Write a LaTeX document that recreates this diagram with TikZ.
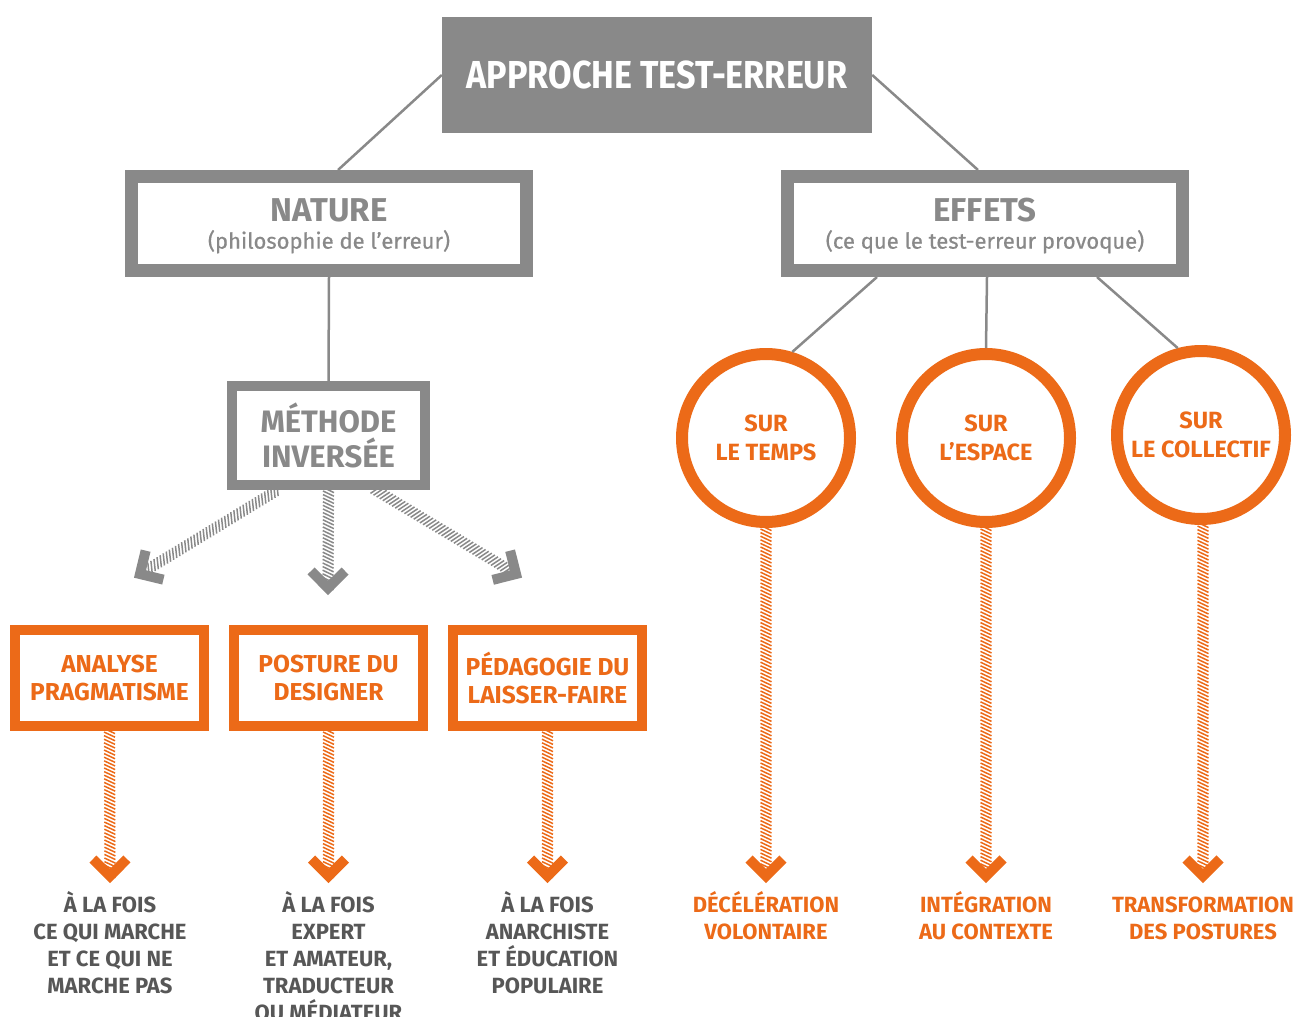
\documentclass[tikz,border=0pt]{standalone}
\usepackage{fontspec}
\setmainfont{Fira Sans}
\newfontfamily\condf{Fira Sans}[FakeStretch=0.875]
\newfontfamily\medf{Fira Sans}[FakeBold=0.6]
\usetikzlibrary{decorations.markings}
\definecolor{gr}{HTML}{898989}
\definecolor{og}{HTML}{EC6A18}
\definecolor{dk}{HTML}{575757}
\newcommand\myfs[2]{\fontsize{#1}{#2}\selectfont}
\newcommand\acc{\vphantom{ÉÀ}}
\begin{document}
\begin{tikzpicture}[x=1pt,y=-1pt,
  conn/.style={draw=gr, line width=2.5pt},
  topbox/.style={fill=gr, minimum width=430pt, minimum height=116pt, text=white, font=\condf\bfseries\myfs{39}{40}, inner sep=0pt},
  bigbox/.style={draw=gr, line width=13pt, minimum width=395pt, minimum height=94pt, fill=white, align=center, text=gr, inner sep=0pt, font=\medf\myfs{22}{31}},
  methbox/.style={draw=gr, line width=10pt, minimum width=193pt, minimum height=99pt, fill=white, align=center, text=gr, font=\bfseries\myfs{31}{35}, inner sep=0pt},
  obox/.style={draw=og, line width=10pt, minimum width=189pt, minimum height=96pt, fill=white, align=center, text=og, font=\bfseries\myfs{24.5}{28.5}, inner sep=0pt},
  ocirc/.style={circle, draw=og, line width=12pt, minimum size=168pt, fill=white, align=center, text=og, font=\bfseries\myfs{23.5}{29}, inner sep=0pt},
  gtext/.style={align=center, text=dk, font=\bfseries\myfs{22}{27}, anchor=north, inner sep=0pt},
  otext/.style={align=center, text=og, font=\bfseries\myfs{22}{27}, anchor=north, inner sep=0pt},
  hatch/.style={postaction={decorate, decoration={markings,
    mark=between positions 0 and 1 step 3.6pt with {\draw[#1, line width=1.5pt] (-2.6pt,-5.5pt) -- (2.6pt,5.5pt);},
    mark=at position 1 with {\draw[#1, line width=10pt, line join=miter] (-17pt,17pt) -- (0pt,0pt) -- (-17pt,-17pt);}}}}
]
\useasboundingbox (0,0) rectangle (1296,1017);

% main boxes
\node[topbox] (top) at (657,75) {APPROCHE TEST-ERREUR};
\node[bigbox] (nat) at (329,223.5) {{\rmfamily\bfseries\myfs{33}{34}\rule{0pt}{28pt}NATURE}\\[-4pt](philosophie de l’erreur)};
\node[bigbox] (eff) at (985,223.5) {{\rmfamily\bfseries\myfs{33}{34}\rule{0pt}{28pt}EFFETS}\\[-4pt](ce que le test-erreur provoque)};
\draw[conn] (top.west) -- (nat.north -| 338,0);
\draw[conn] (top.east) -- (eff.north -| 978,0);

\node[methbox] (meth) at (328.5,435.5) {MÉTHODE\\INVERSÉE};
\draw[conn] (nat.south) -- (meth.north);

% orange boxes
\node[obox] (ana) at (109.5,678) {ANALYSE\\PRAGMATISME};
\node[obox] (pos) at (328.5,678) {POSTURE DU\\DESIGNER};
\node[obox] (ped) at (547.5,678) {PÉDAGOGIE DU\\LAISSER-FAIRE};

% circles
\node[ocirc] (c1) at (766,438) {SUR\\LE TEMPS};
\node[ocirc] (c2) at (986,438) {SUR\\L’ESPACE};
\node[ocirc] (c3) at (1201,435) {SUR\\LE COLLECTIF};
\draw[conn] (eff.south -| 877,0) -- (c1.73);
\draw[conn] (eff.south -| 987,0) -- (c2.north);
\draw[conn] (eff.south -| 1097,0) -- (c3.105);

% gray hatched arrows
\coordinate (gL) at (140,574);
\coordinate (gC) at (328,588);
\coordinate (gR) at (516,574);
\path[hatch=gr] ([xshift=-51pt]meth.south) -- (gL);
\path[hatch=gr] (meth.south) -- (gC);
\path[hatch=gr] ([xshift=47pt]meth.south) -- (gR);

% bottom texts
\node[gtext] (t1) at (110,891) {\acc À LA FOIS\\CE QUI MARCHE\\ET CE QUI NE\\MARCHE PAS};
\node[gtext] (t2) at (328.5,891) {\acc À LA FOIS\\EXPERT\\ET AMATEUR,\\TRADUCTEUR\\OU MÉDIATEUR};
\node[gtext] (t3) at (547.5,891) {\acc À LA FOIS\\ANARCHISTE\\ET ÉDUCATION\\POPULAIRE};
\node[otext] (t4) at (766,891) {\acc DÉCÉLÉRATION\\VOLONTAIRE};
\node[otext] (t5) at (986,891) {\acc INTÉGRATION\\AU CONTEXTE};
\node[otext] (t6) at (1203,891) {\acc TRANSFORMATION\\DES POSTURES};

% orange hatched arrows
\coordinate (e1) at (110,876);
\coordinate (e2) at (328.5,876);
\coordinate (e3) at (547.5,876);
\coordinate (e4) at (766,876);
\coordinate (e5) at (986,876);
\coordinate (e6) at (1203,876);
\path[hatch=og] (ana.south) -- (e1);
\path[hatch=og] (pos.south) -- (e2);
\path[hatch=og] (ped.south) -- (e3);
\path[hatch=og] (c1.south) -- (e4);
\path[hatch=og] (c2.south) -- (e5);
\path[hatch=og] (c3.south -| e6) -- (e6);
\end{tikzpicture}
\end{document}
